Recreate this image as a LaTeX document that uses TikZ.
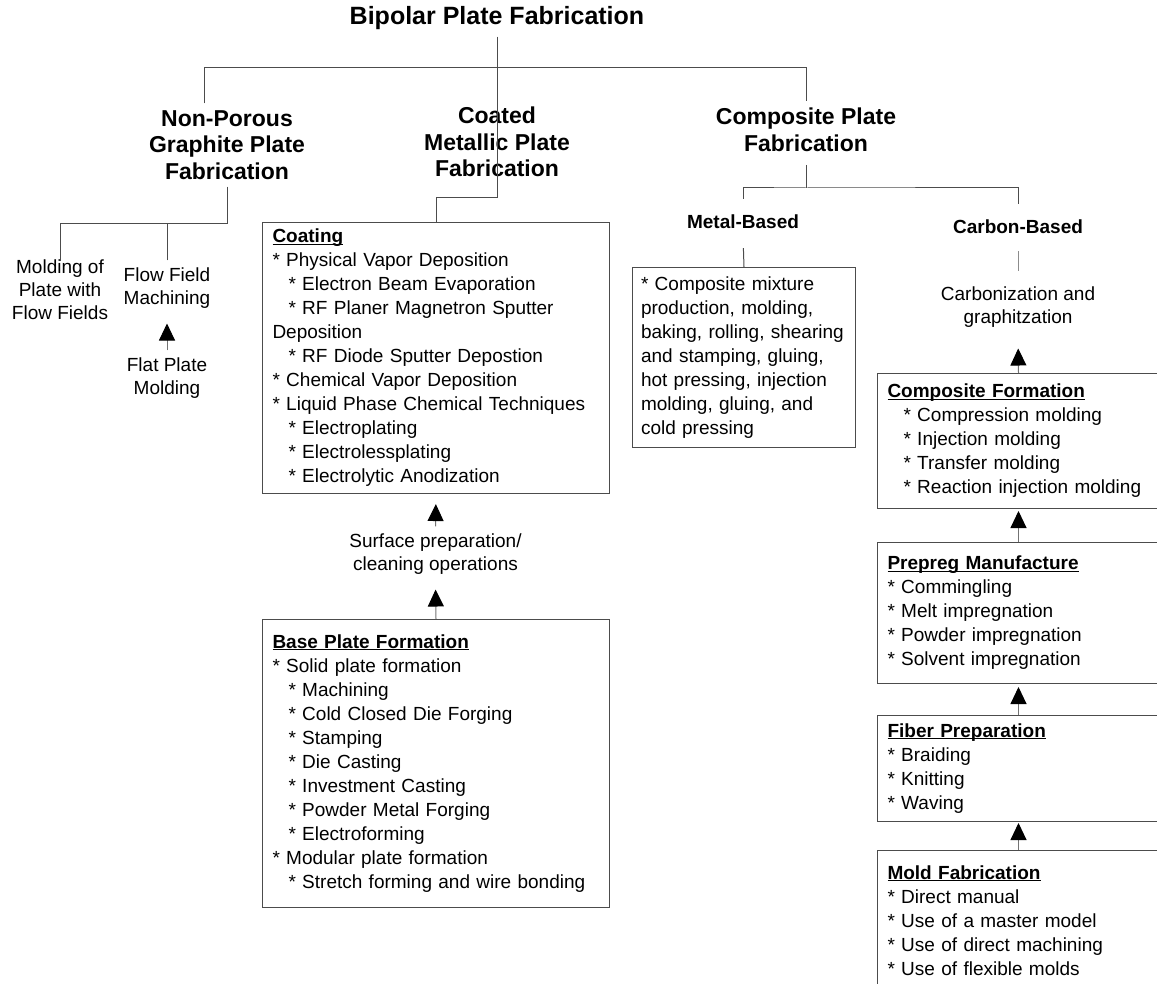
\documentclass[tikz,border=0pt]{standalone}
\usepackage{fontspec}
\setmainfont{Liberation Sans}
\usetikzlibrary{arrows.meta}

\newcommand{\boxtitle}[1]{{\bfseries\setbox0\hbox{#1}\rlap{\rule[-1pt]{\wd0}{0.5pt}}\box0}}
\newcommand{\subind}{\hspace*{8pt}}

\begin{document}
\begin{tikzpicture}[
    x=0.5pt, y=-0.5pt,
    branch/.style={draw=black!70, line width=0.5pt},
    arr/.style={
        -{Triangle[length=8.5pt, width=8pt, black]},
        draw=black!55, line width=0.5pt
    },
    head/.style={align=center, font=\fontsize{11.5}{13.3}\selectfont\bfseries},
    subhead/.style={align=center, font=\fontsize{9.5}{12}\selectfont\bfseries},
    txt/.style={align=center, font=\fontsize{9.5}{11.6}\selectfont},
    box/.style={
        draw=black!70, line width=0.5pt, anchor=north west, align=left,
        inner xsep=5pt, font=\fontsize{9.5}{12}\selectfont
    },
    rbox/.style={box, text width=131pt}
]
\useasboundingbox (0,0) rectangle (1157,984);
\clip (0,0) rectangle (1157,984);

% headings
\node[font=\fontsize{12.5}{15}\selectfont\bfseries] (title) at (497,18) {Bipolar Plate Fabrication};
\node[head] (nonporous) at (227,145) {Non-Porous\\Graphite Plate\\Fabrication};
\node[head] (coated)    at (497,142) {Coated\\Metallic Plate\\Fabrication};
\node[head] (composite) at (806,130) {Composite Plate\\Fabrication};
\node[subhead] (metal)  at (743,222)  {Metal-Based};
\node[subhead] (carbon) at (1018,227) {Carbon-Based};

% plain steps
\node[txt] (molding)   at (60,290)   {Molding of\\Plate with\\Flow Fields};
\node[txt] (flowfield) at (167,288)  {Flow Field\\Machining};
\node[txt] (flatplate) at (167,378)  {Flat Plate\\Molding};
\node[txt] (surface)   at (435.5,554) {Surface preparation/\\cleaning operations};
\node[txt] (carbonize) at (1018,307) {Carbonization and\\graphitzation};

% boxes
\node[box, text width=163.5pt, minimum height=134pt] (coating) at (262,222) {\boxtitle{Coating}\\
{*} Physical Vapor Deposition\\
\subind* Electron Beam Evaporation\\
\subind* RF Planer Magnetron Sputter\\
Deposition\\
\subind* RF Diode Sputter Depostion\\
{*} Chemical Vapor Deposition\\
{*} Liquid Phase Chemical Techniques\\
\subind* Electroplating\\
\subind* Electrolessplating\\
\subind* Electrolytic Anodization};

\node[box, text width=163.5pt, minimum height=144pt] (base) at (262,619) {\boxtitle{Base Plate Formation}\\
{*} Solid plate formation\\
\subind* Machining\\
\subind* Cold Closed Die Forging\\
\subind* Stamping\\
\subind* Die Casting\\
\subind* Investment Casting\\
\subind* Powder Metal Forging\\
\subind* Electroforming\\
{*} Modular plate formation\\
\subind* Stretch forming and wire bonding};

\node[box, inner xsep=4.25pt, text width=103pt, minimum height=90pt] (metalbox) at (632,267) {* Composite mixture\\
production, molding,\\
baking, rolling, shearing\\
and stamping, gluing,\\
hot pressing, injection\\
molding, gluing, and\\
cold pressing};

\node[rbox, minimum height=67.5pt] (compbox) at (877,373) {\boxtitle{Composite Formation}\\
\subind* Compression molding\\
\subind* Injection molding\\
\subind* Transfer molding\\
\subind* Reaction injection molding};

\node[rbox, minimum height=70.5pt] (prepreg) at (877,542) {\boxtitle{Prepreg Manufacture}\\
{*} Commingling\\
{*} Melt impregnation\\
{*} Powder impregnation\\
{*} Solvent impregnation};

\node[rbox, minimum height=53pt] (fiber) at (877,715) {\boxtitle{Fiber Preparation}\\
{*} Braiding\\
{*} Knitting\\
{*} Waving};

\node[rbox, minimum height=70pt] (mold) at (877,850) {\boxtitle{Mold Fabrication}\\
{*} Direct manual\\
{*} Use of a master model\\
{*} Use of direct machining\\
{*} Use of flexible molds};

% tree lines
\coordinate (busL)  at (204,68);
\coordinate (busR)  at (806,68);
\coordinate (cbend) at (497,198);
\coordinate (npbus) at (227,224);
\coordinate (cpbus) at (806,188);

\draw[branch] (title.south) -- (cbend) -| (coating.north);
\draw[branch] (busL |- nonporous.north) -- (busL) -- (busR) -- (composite.north);
\draw[branch] (nonporous.south) -- (npbus);
\draw[branch] ([yshift=-4pt]molding.north) |- (npbus);
\draw[branch] (flowfield.north) -- (flowfield.north |- npbus);
\draw[branch, shorten <=3pt] (composite.south) -- (cpbus);
\draw[branch, shorten <=4.5pt, shorten >=4.5pt] (metal.north) |- (cpbus) -| (carbon.north);
\draw[branch, shorten <=6pt] (metal.south) -- (metalbox.north);
\draw[branch, draw=black!45, shorten <=5pt, shorten >=4pt] (carbon.south) -- (carbonize.north);

% arrows
\draw[arr, shorten >=4pt]   (flatplate.north) -- (flowfield.south);
\draw[arr, shorten >=4pt]   (base.north) -- (surface.south);
\draw[arr, shorten >=5pt]   (surface.north) -- (coating.south);
\draw[arr, shorten >=7pt]   (compbox.north) -- (carbonize.south);
\draw[arr, shorten >=1pt]   (prepreg.north) -- (compbox.south);
\draw[arr, shorten >=1.5pt] (fiber.north) -- (prepreg.south);
\draw[arr, shorten >=0.5pt] (mold.north) -- (fiber.south);

\end{tikzpicture}
\end{document}
